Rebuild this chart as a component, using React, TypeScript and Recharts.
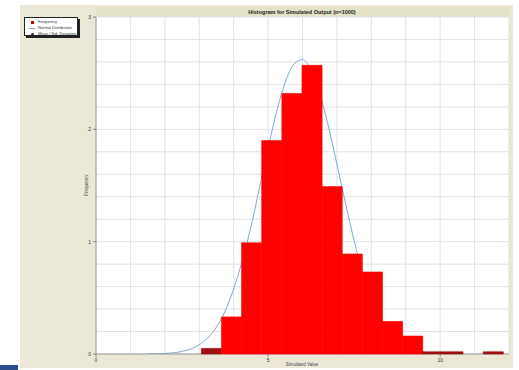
import { ComposedChart, Line, XAxis, YAxis, CartesianGrid, ReferenceArea } from "recharts";

// histogram bin edges and the relative frequency in each bin
const binEdges = [3.06, 3.645, 4.23, 4.815, 5.4, 5.985, 6.57, 7.155, 7.74, 8.325, 8.91, 9.495, 10.08, 10.665, 11.25, 11.835];
const binValues = [0.05, 0.33, 0.99, 1.9, 2.32, 2.57, 1.49, 0.89, 0.73, 0.29, 0.16, 0.02, 0.02, 0, 0.02];

// fitted curve
const curveX = [1.5, 2, 2.5, 3, 3.25, 3.5, 3.75, 4, 4.25, 4.5, 4.75, 5, 5.25, 5.5, 5.75, 6, 6.25, 6.5, 6.75, 7, 7.25, 7.5, 7.75, 8, 8.25, 8.5, 8.75, 9, 9.5, 10, 10.5];
const curveY = [0.001, 0.005, 0.023, 0.082, 0.144, 0.24, 0.38, 0.58, 0.83, 1.13, 1.48, 1.83, 2.16, 2.42, 2.58, 2.62, 2.53, 2.32, 2.03, 1.69, 1.34, 1.01, 0.72, 0.49, 0.32, 0.2, 0.115, 0.064, 0.017, 0.004, 0.001];

const xTicks = [0, 1, 2, 3, 4, 5, 6, 7, 8, 9, 10, 11, 12];
const xLabels = [0, 5, 10];
const yTicks = [0, 0.2, 0.4, 0.6, 0.8, 1, 1.2, 1.4, 1.6, 1.8, 2, 2.2, 2.4, 2.6, 2.8, 3];
const yLabels = [0, 1, 2, 3];

const legendItems = ["Frequency", "Normal Distribution", "Mean / Std. Deviation"];

const curveData = curveX.map((x, i) => ({ x, y: curveY[i] }));

const FONT = "'Liberation Sans', Arial, sans-serif";
const W = 519;
const H = 370;

const XTick = (props: any) => {
  const { x, y, payload } = props;
  if (!xLabels.includes(payload.value)) return null;
  return (
    <g>
      <line x1={x} x2={x} y1={y} y2={y + 3} stroke="#888" />
      <text x={x} y={y + 8} textAnchor="middle" fontSize={5} fill="#333" fontFamily={FONT}>
        {payload.value}
      </text>
    </g>
  );
};

const YTick = (props: any) => {
  const { x, y, payload } = props;
  const v = Math.round(payload.value * 10) / 10;
  if (!yLabels.includes(v)) return null;
  return (
    <g>
      <line x1={x - 3} x2={x} y1={y} y2={y} stroke="#888" />
      <text x={x - 5} y={y + 2} textAnchor="end" fontSize={5} fill="#333" fontFamily={FONT}>
        {v}
      </text>
    </g>
  );
};

export default function App() {
  return (
    <div style={{ position: "absolute", left: 0, top: 0, width: W, height: H, background: "#fff", overflow: "hidden" }}>
      <div style={{ position: "absolute", left: 20, top: 5, width: 493, height: 363, background: "#ebe8d8" }} />
      <div style={{ position: "absolute", left: 96, top: 7, width: 413, height: 10, background: "#e4e2c9" }} />
      <div style={{ position: "absolute", left: 0, top: 365, width: 18, height: 5, background: "#2b4f8c" }} />

      {/* back layer: grid, axes and fitted curve */}
      <div style={{ position: "absolute", left: 0, top: 0 }}>
        <ComposedChart width={W} height={H} data={curveData} margin={{ top: 17, right: 10, bottom: 0, left: 0 }}>
          <CartesianGrid fill="#fff" stroke="#e3e3e3" strokeWidth={1} horizontal vertical />
          <XAxis
            dataKey="x"
            type="number"
            domain={[0, 12]}
            ticks={xTicks}
            interval={0}
            height={16}
            tickSize={0}
            tickMargin={0}
            tickLine={false}
            axisLine={{ stroke: "#999" }}
            tick={<XTick />}
            allowDataOverflow
          />
          <YAxis
            type="number"
            domain={[0, 3]}
            ticks={yTicks}
            interval={0}
            width={96}
            tickSize={0}
            tickMargin={0}
            tickLine={false}
            axisLine={{ stroke: "#999" }}
            tick={<YTick />}
            allowDataOverflow
          />
          <Line
            dataKey="y"
            type="monotone"
            stroke="#7fa8d9"
            strokeWidth={1}
            dot={false}
            isAnimationActive={false}
          />
          <text x={302} y={14} textAnchor="middle" fontSize={5.5} fontWeight="bold" fill="#222" fontFamily={FONT}>
            Histogram for Simulated Output (n=1000)
          </text>
          <text x={302} y={366} textAnchor="middle" fontSize={4.5} fill="#444" fontFamily={FONT}>
            Simulated Value
          </text>
          <text
            x={88}
            y={185}
            textAnchor="middle"
            fontSize={4.5}
            fill="#444"
            fontFamily={FONT}
            transform="rotate(-90 88 185)"
          >
            Frequency
          </text>
        </ComposedChart>
      </div>

      {/* front layer: histogram bins, same plot box so the scales line up */}
      <div style={{ position: "absolute", left: 0, top: 0 }}>
        <ComposedChart width={W} height={H} data={curveData} margin={{ top: 17, right: 10, bottom: 16, left: 96 }}>
          <XAxis dataKey="x" type="number" domain={[0, 12]} hide allowDataOverflow />
          <YAxis type="number" domain={[0, 3]} hide allowDataOverflow />
          {binValues.map((v, i) =>
            v > 0 ? (
              <ReferenceArea
                key={i}
                x1={binEdges[i]}
                x2={binEdges[i + 1]}
                y1={0}
                y2={v}
                fill={v < 0.1 ? "#a01010" : "#ff0000"}
                fillOpacity={1}
                stroke={v < 0.1 ? "#a01010" : "#ff0000"}
                strokeWidth={0.6}
              />
            ) : null
          )}
        </ComposedChart>
      </div>

      {/* legend box with drop shadow */}
      <div
        style={{
          position: "absolute",
          left: 24,
          top: 17,
          width: 54,
          height: 19,
          background: "#fff",
          border: "1px solid #222",
          boxShadow: "2px 2px 0 #222",
          fontFamily: FONT,
          fontSize: 4,
          color: "#333",
          lineHeight: "6px",
          padding: "1px 0 0 3px",
          boxSizing: "border-box",
        }}
      >
        {legendItems.map((t, i) => (
          <div key={t} style={{ display: "flex", alignItems: "center", height: 6 }}>
            <span style={{ width: 8, display: "inline-flex", justifyContent: "center" }}>
              {i === 0 && <span style={{ width: 3, height: 3, background: "#c00000" }} />}
              {i === 1 && <span style={{ width: 6, height: 1, background: "#7fa8d9" }} />}
              {i === 2 && <span style={{ width: 3, height: 3, borderRadius: 2, background: "#222" }} />}
            </span>
            <span style={{ marginLeft: 2, whiteSpace: "nowrap" }}>{t}</span>
          </div>
        ))}
      </div>
    </div>
  );
}
